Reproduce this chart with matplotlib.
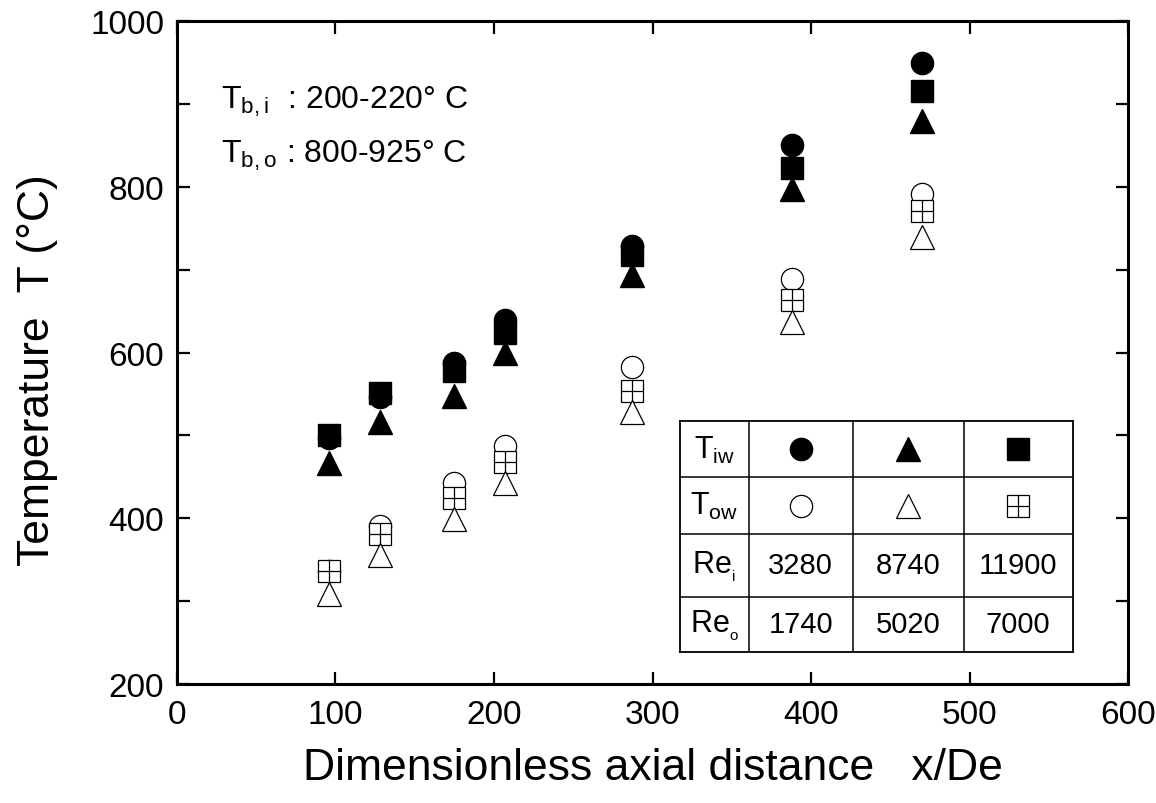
import numpy as np
import matplotlib
matplotlib.use('Agg')
import matplotlib.pyplot as plt

plt.rcParams['font.family'] = ['Liberation Sans', 'DejaVu Sans']
plt.rcParams['mathtext.fontset'] = 'custom'
plt.rcParams['mathtext.rm'] = 'Liberation Sans'

# data
x_de = [96, 128, 175, 207, 287, 388, 470]
tiw_re3280 = [497, 546, 588, 639, 729, 850, 950]
tiw_re8740 = [467, 516, 547, 599, 693, 797, 880]
tiw_re11900 = [501, 551, 578, 624, 718, 823, 916]
tow_re3280 = [336, 391, 443, 487, 582, 689, 791]
tow_re8740 = [309, 356, 399, 443, 528, 637, 739]
tow_re11900 = [336, 381, 425, 468, 554, 664, 771]

xticks = [0, 100, 200, 300, 400, 500, 600]
yticks = [200, 300, 400, 500, 600, 700, 800, 900, 1000]
ytick_labels = ['200', '', '400', '', '600', '', '800', '', '1000']

re_i = ['3280', '8740', '11900']
re_o = ['1740', '5020', '7000']

fig = plt.figure(figsize=(11.56, 8.04), dpi=100)
ax = fig.add_axes([0.153, 0.148, 0.823, 0.8245])

ms = 16
# open (outer wall) markers
ax.plot(x_de, tow_re3280, 'o', ms=ms, mfc='white', mec='black', mew=0.9, ls='none', zorder=3)
ax.plot(x_de, tow_re11900, 's', ms=ms - 0.5, mfc='white', mec='black', mew=0.9, ls='none', zorder=4)
ax.plot(x_de, tow_re11900, '+', ms=ms - 0.5, mec='black', mew=0.9, ls='none', zorder=4)
ax.plot(x_de, tow_re8740, '^', ms=ms + 1, mfc='white', mec='black', mew=0.9, ls='none', zorder=5)
# filled (inner wall) markers
ax.plot(x_de, tiw_re3280, 'o', ms=ms, color='black', ls='none', zorder=3)
ax.plot(x_de, tiw_re11900, 's', ms=ms - 0.5, color='black', ls='none', zorder=4)
ax.plot(x_de, tiw_re8740, '^', ms=ms + 1, color='black', ls='none', zorder=5)

ax.set_xlim(0, 600)
ax.set_ylim(200, 1000)
ax.set_xticks(xticks)
ax.set_yticks(yticks)
ax.set_yticklabels(ytick_labels)
ax.tick_params(direction='in', length=9, width=1.6, labelsize=24, pad=9,
               top=True, right=True)
ax.tick_params(axis='x', pad=11)
for s in ax.spines.values():
    s.set_linewidth(2.2)

ax.set_xlabel('Dimensionless axial distance   x/De', fontsize=32, labelpad=12)
ax.set_ylabel('Temperature  T (°C)', fontsize=32)
ax.yaxis.set_label_coords(-0.125, 0.475)

ax.text(28, 904, r'$\mathregular{T_{b,i}}$  : 200-220° C', fontsize=23, va='center')
ax.text(28, 838, r'$\mathregular{T_{b,o}}$ : 800-925° C', fontsize=23, va='center')

# key table
tab = fig.add_axes([0.588, 0.188, 0.34, 0.287])
col_edges = [0, 69, 173, 284, 393]
row_edges = [0, 56, 113, 176, 231]
tab.set_xlim(0, 393)
tab.set_ylim(231, 0)
tab.set_xticks([])
tab.set_yticks([])
for s in tab.spines.values():
    s.set_linewidth(1.3)
for c in col_edges[1:-1]:
    tab.axvline(c, color='black', lw=1.1)
for r in row_edges[1:-1]:
    tab.axhline(r, color='black', lw=1.1)

cx = [(col_edges[i] + col_edges[i + 1]) / 2 for i in range(4)]
cy = [(row_edges[i] + row_edges[i + 1]) / 2 for i in range(4)]

row_names = [r'$\mathregular{T_{iw}}$', r'$\mathregular{T_{ow}}$',
             r'$\mathregular{Re_{_i}}$', r'$\mathregular{Re_{_o}}$']
for i, name in enumerate(row_names):
    tab.text(cx[0], cy[i], name, fontsize=22, ha='center', va='center')

tab.plot(cx[1], cy[0], 'o', ms=ms, color='black')
tab.plot(cx[2], cy[0], '^', ms=ms + 1, color='black')
tab.plot(cx[3], cy[0], 's', ms=ms - 0.5, color='black')
tab.plot(cx[1], cy[1], 'o', ms=ms, mfc='white', mec='black', mew=0.9)
tab.plot(cx[2], cy[1], '^', ms=ms + 1, mfc='white', mec='black', mew=0.9)
tab.plot(cx[3], cy[1], 's', ms=ms - 0.5, mfc='white', mec='black', mew=0.9)
tab.plot(cx[3], cy[1], '+', ms=ms - 0.5, mec='black', mew=0.9)

for j in range(3):
    tab.text(cx[j + 1], cy[2], re_i[j], fontsize=21, ha='center', va='center')
    tab.text(cx[j + 1], cy[3], re_o[j], fontsize=21, ha='center', va='center')

plt.savefig('out.png', dpi=100)
